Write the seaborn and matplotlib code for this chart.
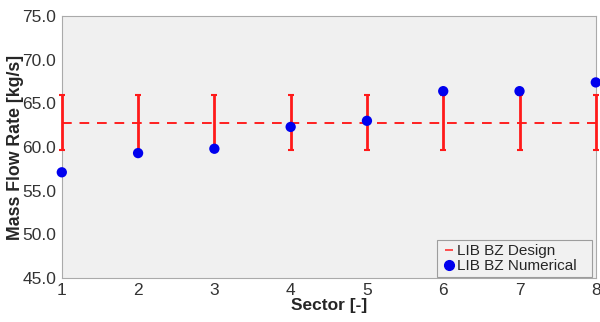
import matplotlib
matplotlib.use("Agg")
import matplotlib.pyplot as plt
import seaborn as sns
import pandas as pd
import numpy as np
from matplotlib.lines import Line2D

sectors = [1, 2, 3, 4, 5, 6, 7, 8]
design = [62.8, 62.8, 62.8, 62.8, 62.8, 62.8, 62.8, 62.8]
err_upper = [66.0, 66.0, 66.0, 66.0, 66.0, 66.0, 66.0, 66.0]
err_lower = [59.7, 59.7, 59.7, 59.7, 59.7, 59.7, 59.7, 59.7]
numerical = [57.1, 59.3, 59.8, 62.3, 63.0, 66.4, 66.4, 67.4]
yticks = [45.0, 50.0, 55.0, 60.0, 65.0, 70.0, 75.0]

df = pd.DataFrame({"Sector": sectors, "Design": design, "Numerical": numerical,
                   "lo": err_lower, "hi": err_upper})

sns.set_theme(style="white")
plt.rcParams['font.family'] = ['Liberation Sans', 'DejaVu Sans']

fig = plt.figure(figsize=(6.0, 3.22), dpi=100)
ax = fig.add_axes([0.103, 0.137, 0.890, 0.813])
ax.set_facecolor("#f0f0f0")

sns.lineplot(data=df, x="Sector", y="Design", ax=ax, color="#ff2020",
             linestyle=(0, (5, 4)), linewidth=1.4, legend=False)
eb = ax.errorbar(df["Sector"], df["Design"],
                 yerr=[df["Design"] - df["lo"], df["hi"] - df["Design"]],
                 fmt="none", ecolor="#ff1a1a", elinewidth=2.0, capsize=2.5, capthick=1.5,
                 clip_on=False, zorder=4)
sns.scatterplot(data=df, x="Sector", y="Numerical", ax=ax, color="#0000ee",
                s=55, edgecolor="none", zorder=5, clip_on=False, legend=False)

ax.set_xlim(1, 8)
ax.set_ylim(45, 75)
ax.set_xticks(sectors)
ax.set_xticklabels([str(s) for s in sectors])
ax.set_yticks(yticks)
ax.set_yticklabels([f"{v:.1f}" for v in yticks])
ax.tick_params(axis="both", labelsize=12.5, colors="#333333", length=0, pad=4)
ax.set_xlabel("Sector [-]", fontsize=12.5, fontweight="bold", labelpad=0)
ax.set_ylabel("Mass Flow Rate [kg/s]", fontsize=12.8, fontweight="bold", labelpad=-1)
for sp in ax.spines.values():
    sp.set_color("#aaaaaa")
    sp.set_linewidth(0.8)
    sp.set_zorder(1)

handles = [Line2D([0], [0], color="#ff4040", marker="_", markersize=6, mew=1.3, linestyle="none"),
           Line2D([0], [0], color="#0000ee", marker="o", linestyle="none", markersize=7)]
leg = ax.legend(handles, ["LIB BZ Design", "LIB BZ Numerical"], loc="lower left",
                bbox_to_anchor=(0.702, 0.004, 0.29, 0.14), mode="expand",
                fontsize=11, frameon=True, handlelength=1.1, handletextpad=0.0,
                borderpad=0.25, labelspacing=0.05, fancybox=False,
                facecolor="#f2f2f2", edgecolor="#888888", borderaxespad=0)
leg.get_frame().set_linewidth(0.8)
leg.set_zorder(6)

fig.savefig("out.png", dpi=100, facecolor="white")
